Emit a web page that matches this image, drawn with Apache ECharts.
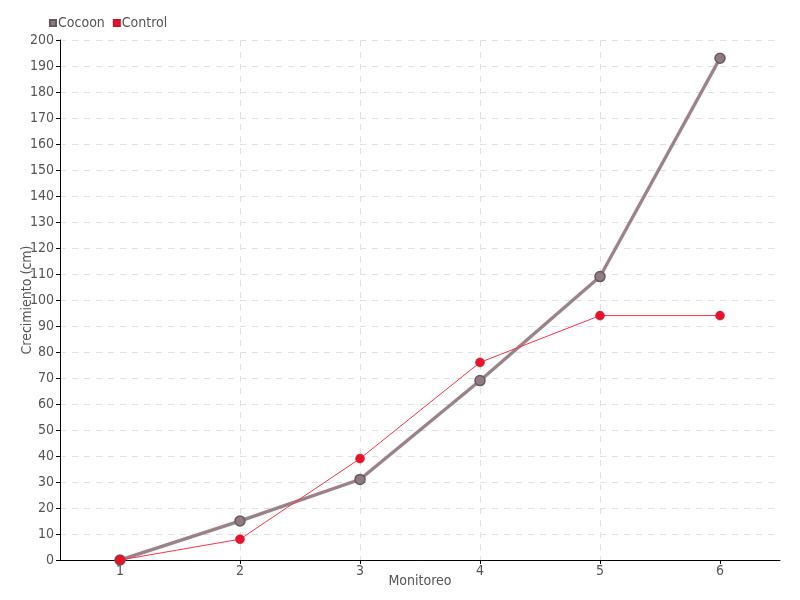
<!DOCTYPE html>
<html><head><meta charset="utf-8">
<script src="https://cdn.jsdelivr.net/npm/echarts@6/dist/echarts.min.js"></script>
<style>html,body{margin:0;padding:0;background:#fff}#c{width:800px;height:600px}</style>
</head><body><div id="c"></div>
<script>
const categories = [1, 2, 3, 4, 5, 6];
const cocoon = [0, 15, 31, 69, 109, 193];
const control = [0, 8, 39, 76, 94, 94];
const yTicks = [0, 10, 20, 30, 40, 50, 60, 70, 80, 90, 100, 110, 120, 130, 140, 150, 160, 170, 180, 190, 200];

const FONT = "'DejaVu Sans Condensed', 'Liberation Sans Narrow', sans-serif";
const TXT = '#555';
const chart = echarts.init(document.getElementById('c'));
chart.setOption({
  animation: false,
  textStyle: { fontFamily: FONT, color: TXT },
  legend: {
    left: 44, top: 11, itemWidth: 6, itemHeight: 6, itemGap: 8,
    icon: 'rect',
    textStyle: { fontFamily: FONT, fontSize: 14, color: TXT, padding: [0, 0, 0, -3] },
    data: ['Cocoon', 'Control']
  },
  grid: { left: 60, right: 20, top: 40, bottom: 40, containLabel: false, outerBoundsMode: 'none' },
  xAxis: {
    type: 'value', min: 0.5, max: 6.5,
    name: 'Monitoreo', nameLocation: 'middle', nameGap: 14, nameMoveOverlap: false,
    nameTextStyle: { fontFamily: FONT, fontSize: 14, color: TXT },
    axisLine: { lineStyle: { color: '#000', width: 1 } },
    axisTick: { show: true, length: 4, lineStyle: { color: '#000' }, customValues: categories },
    axisLabel: { fontFamily: FONT, fontSize: 14, color: TXT, margin: 4, customValues: categories },
    splitLine: { show: true, showMinLine: false, showMaxLine: false, lineStyle: { type: [6, 6], color: '#e0e0e0' } }
  },
  yAxis: {
    type: 'value', min: yTicks[0], max: yTicks[yTicks.length - 1], interval: 10,
    name: 'Crecimiento (cm)', nameLocation: 'middle', nameGap: 26, nameRotate: 90, nameMoveOverlap: false,
    nameTextStyle: { fontFamily: FONT, fontSize: 14, color: TXT },
    axisLine: { show: true, lineStyle: { color: '#000', width: 1 } },
    axisTick: { show: true, length: 4, lineStyle: { color: '#000' } },
    axisLabel: { fontFamily: FONT, fontSize: 14, color: TXT, margin: 6 },
    splitLine: { show: true, showMinLine: false, lineStyle: { type: [6, 6], color: '#e0e0e0' } }
  },
  series: [
    {
      name: 'Cocoon', type: 'line',
      data: categories.map((c, i) => [c, cocoon[i]]),
      symbol: 'circle', symbolSize: 10,
      lineStyle: { color: '#9a8388', width: 3, shadowColor: 'rgba(90,60,70,0.5)', shadowBlur: 1 },
      itemStyle: { color: '#8f7b82', borderColor: '#6a5860', borderWidth: 1.5 },
      z: 2
    },
    {
      name: 'Control', type: 'line',
      data: categories.map((c, i) => [c, control[i]]),
      symbol: 'circle', symbolSize: 9,
      lineStyle: { color: '#ff3346', width: 1 },
      itemStyle: { color: '#e8132a', borderColor: '#d41025', borderWidth: 0.5 },
      z: 3
    }
  ]
});
</script></body></html>
